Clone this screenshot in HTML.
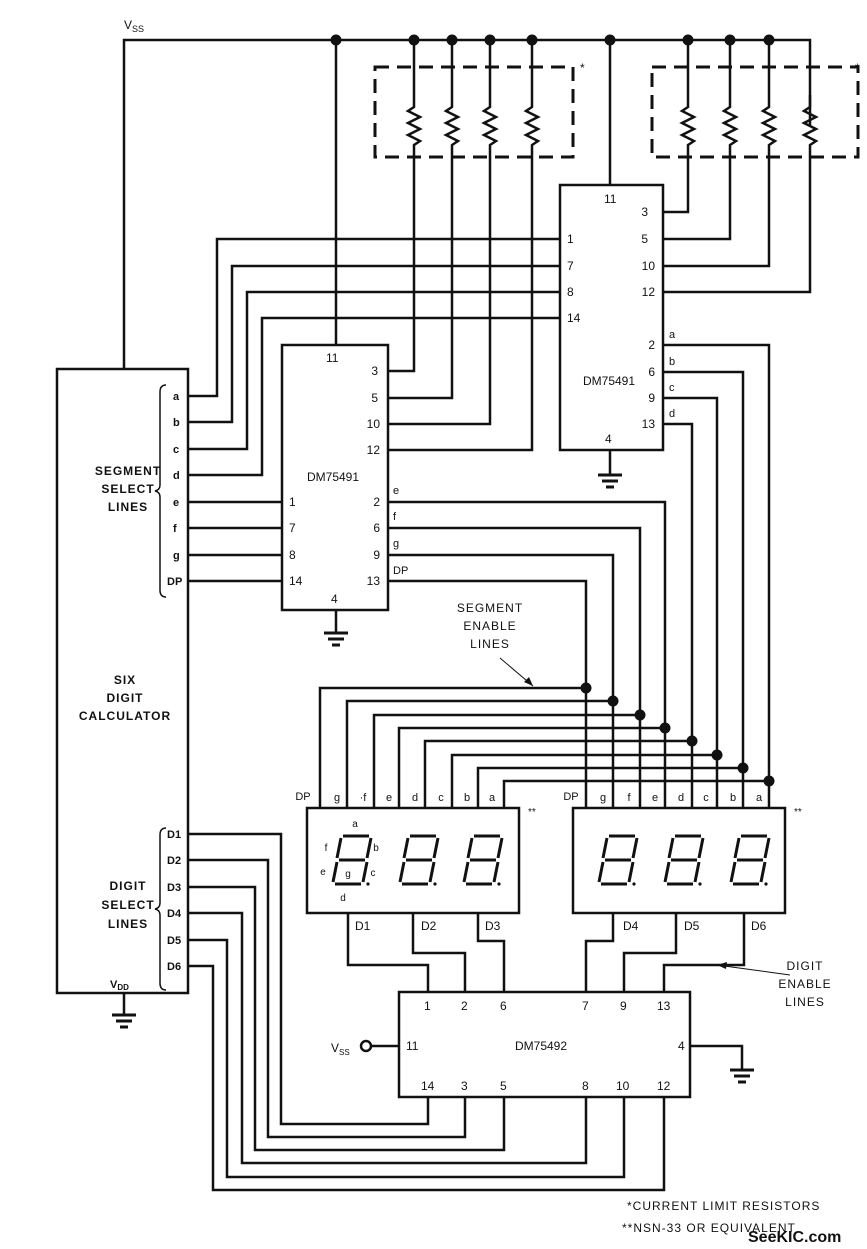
<!DOCTYPE html>
<html><head><meta charset="utf-8"><style>
html,body{margin:0;padding:0;background:#fff}
svg{display:block}
text{font-family:"Liberation Sans",sans-serif;fill:#111}
</style></head><body>
<svg width="867" height="1249" viewBox="0 0 867 1249" xmlns="http://www.w3.org/2000/svg">
<defs>
<g id="dig" fill="none" stroke="#111" stroke-width="3">
<path d="M9 2 L35 2 M7 4 L3 24 M37 4 L33 24 M5 26 L31 26 M3 28 L-1 48 M33 28 L29 48 M1 50 L27 50"/>
<circle cx="34" cy="50" r="1.6" fill="#111" stroke="none"/>
</g>
<g id="res" fill="none" stroke="#111" stroke-width="2.5">
<path d="M0 0 L0 12 L-6 16 L6 22 L-6 28 L6 34 L-6 40 L6 46 L0 50 L0 62"/>
</g>
<g id="gnd" stroke="#111" stroke-width="3"><path d="M-12 0 H12 M-8 6 H8 M-4 12 H4"/></g>
</defs>
<g fill="none" stroke="#111" stroke-width="2.5">
<path d="M124 368 V40 H810 V125"/>
<path d="M336 40 V345"/>
<path d="M414 40 V95 M414 157 V371 H388"/>
<path d="M452 40 V95 M452 157 V398 H388"/>
<path d="M490 40 V95 M490 157 V424 H388"/>
<path d="M532 40 V95 M532 157 V450 H388"/>
<path d="M610 40 V185"/>
<path d="M688 40 V95 M688 157 V212 H663"/>
<path d="M730 40 V95 M730 157 V239 H663"/>
<path d="M769 40 V95 M769 157 V266 H663"/>
<path d="M810 157 V292 H663"/>
<rect x="375" y="67" width="198" height="90" stroke-dasharray="14,8" stroke-width="3"/>
<rect x="652" y="67" width="206" height="90" stroke-dasharray="14,8" stroke-width="3"/>
<rect x="282" y="345" width="106" height="265"/>
<rect x="560" y="185" width="103" height="265"/>
<rect x="57" y="369" width="131" height="624"/>
<rect x="399" y="992" width="291" height="105"/>
<path d="M560 239 H217 V396 H188"/>
<path d="M560 266 H232 V422 H188"/>
<path d="M560 292 H247 V449 H188"/>
<path d="M560 318 H262 V475 H188"/>
<path d="M188 502 H282 M188 528 H282 M188 555 H282 M188 581 H282"/>
<path d="M388 502 H665 V808"/>
<path d="M388 528 H640 V808"/>
<path d="M388 555 H613 V808"/>
<path d="M388 581 H586 V808"/>
<path d="M663 345 H769 V808"/>
<path d="M663 372 H743 V808"/>
<path d="M663 398 H717 V808"/>
<path d="M663 424 H692 V808"/>
<path d="M586 688 H320 V808"/>
<path d="M613 701 H347 V808"/>
<path d="M640 715 H374 V808"/>
<path d="M665 728 H399 V808"/>
<path d="M692 741 H425 V808"/>
<path d="M717 755 H452 V808"/>
<path d="M743 768 H478 V808"/>
<path d="M769 781 H504 V808"/>
<rect x="307" y="808" width="212" height="105"/>
<rect x="573" y="808" width="212" height="105"/>
<path d="M348 913 V965 H428 V992"/>
<path d="M413 913 V953 H465 V992"/>
<path d="M478 913 V941 H504 V992"/>
<path d="M613 913 V941 H586 V992"/>
<path d="M676 913 V953 H624 V992"/>
<path d="M744 913 V965 H664 V992"/>
<path d="M188 834 H281 V1124 H428 V1097"/>
<path d="M188 860 H268 V1137 H465 V1097"/>
<path d="M188 887 H255 V1150 H504 V1097"/>
<path d="M188 913 H242 V1163 H586 V1097"/>
<path d="M188 940 H227 V1177 H624 V1097"/>
<path d="M188 966 H213 V1190 H664 V1097"/>
<path d="M371 1046 H399"/>
<circle cx="366" cy="1046" r="5"/>
<path d="M690 1046 H742 V1070"/>
<path d="M336 610 V633 M610 450 V475 M124 993 V1015"/>
<path d="M166 385 Q160 385 160 392 V485 Q160 490 155 491 Q160 492 160 497 V590 Q160 597 166 597" stroke-width="1.5"/>
<path d="M166 828 Q160 828 160 835 V903 Q160 908 155 909 Q160 910 160 915 V983 Q160 990 166 990" stroke-width="1.5"/>
<path d="M500 658 L533 686" stroke-width="1"/>
<path d="M790 975 L717 965" stroke-width="1"/>
</g>
<path d="M533 686 L524 682 L529 677 Z M717 965 L727 962 L726 969 Z" fill="#111"/>
<g>
<use href="#res" x="414" y="95"/><use href="#res" x="452" y="95"/><use href="#res" x="490" y="95"/><use href="#res" x="532" y="95"/>
<use href="#res" x="688" y="95"/><use href="#res" x="730" y="95"/><use href="#res" x="769" y="95"/><use href="#res" x="810" y="95"/>
<use href="#gnd" x="336" y="633"/><use href="#gnd" x="610" y="475"/><use href="#gnd" x="124" y="1015"/><use href="#gnd" x="742" y="1070"/>
<use href="#dig" x="334" y="834"/><use href="#dig" x="401" y="834"/><use href="#dig" x="465" y="834"/>
<use href="#dig" x="600" y="834"/><use href="#dig" x="666" y="834"/><use href="#dig" x="732" y="834"/>
</g>
<g fill="#111">
<circle cx="336" cy="40" r="5.5"/><circle cx="414" cy="40" r="5.5"/><circle cx="452" cy="40" r="5.5"/><circle cx="490" cy="40" r="5.5"/><circle cx="532" cy="40" r="5.5"/><circle cx="610" cy="40" r="5.5"/><circle cx="688" cy="40" r="5.5"/><circle cx="730" cy="40" r="5.5"/><circle cx="769" cy="40" r="5.5"/>
<circle cx="586" cy="688" r="5.5"/><circle cx="613" cy="701" r="5.5"/><circle cx="640" cy="715" r="5.5"/><circle cx="665" cy="728" r="5.5"/><circle cx="692" cy="741" r="5.5"/><circle cx="717" cy="755" r="5.5"/><circle cx="743" cy="768" r="5.5"/><circle cx="769" cy="781" r="5.5"/>
</g>
<g font-size="12">
<text x="124" y="29">V<tspan font-size="9" dy="3">SS</tspan></text>
<text x="580" y="72">*</text><text x="855" y="72">*</text>
<text x="604" y="203">11</text>
<text x="648" y="216" text-anchor="end">3</text><text x="648" y="243" text-anchor="end">5</text><text x="655" y="270" text-anchor="end">10</text><text x="655" y="296" text-anchor="end">12</text>
<text x="567" y="243">1</text><text x="567" y="270">7</text><text x="567" y="296">8</text><text x="567" y="322">14</text>
<text x="583" y="385">DM75491</text>
<text x="655" y="349" text-anchor="end">2</text><text x="655" y="376" text-anchor="end">6</text><text x="655" y="402" text-anchor="end">9</text><text x="655" y="428" text-anchor="end">13</text>
<text x="669" y="338" font-size="11">a</text><text x="669" y="365" font-size="11">b</text><text x="669" y="391" font-size="11">c</text><text x="669" y="417" font-size="11">d</text>
<text x="605" y="443">4</text>
<text x="326" y="362">11</text>
<text x="378" y="375" text-anchor="end">3</text><text x="378" y="402" text-anchor="end">5</text><text x="380" y="428" text-anchor="end">10</text><text x="380" y="454" text-anchor="end">12</text>
<text x="307" y="481">DM75491</text>
<text x="289" y="506">1</text><text x="289" y="532">7</text><text x="289" y="559">8</text><text x="289" y="585">14</text>
<text x="380" y="506" text-anchor="end">2</text><text x="380" y="532" text-anchor="end">6</text><text x="380" y="559" text-anchor="end">9</text><text x="380" y="585" text-anchor="end">13</text>
<text x="331" y="603">4</text>
<text x="393" y="494" font-size="11">e</text><text x="393" y="520" font-size="11">f</text><text x="393" y="547" font-size="11">g</text><text x="393" y="574" font-size="11">DP</text>
<text x="490" y="612" text-anchor="middle" letter-spacing="1">SEGMENT</text>
<text x="490" y="630" text-anchor="middle" letter-spacing="1">ENABLE</text>
<text x="490" y="648" text-anchor="middle" letter-spacing="1">LINES</text>
<g font-weight="bold" font-size="12" text-anchor="middle" letter-spacing="1">
<text x="128" y="475">SEGMENT</text><text x="128" y="493">SELECT</text><text x="128" y="511">LINES</text>
<text x="125" y="684">SIX</text><text x="125" y="702">DIGIT</text><text x="125" y="720">CALCULATOR</text>
<text x="128" y="890">DIGIT</text><text x="128" y="909">SELECT</text><text x="128" y="928">LINES</text>
</g>
<g font-weight="bold" font-size="11">
<text x="173" y="400">a</text><text x="173" y="426">b</text><text x="173" y="453">c</text><text x="173" y="479">d</text><text x="173" y="506">e</text><text x="173" y="532">f</text><text x="173" y="559">g</text><text x="167" y="585">DP</text>
<text x="167" y="838">D1</text><text x="167" y="864">D2</text><text x="167" y="891">D3</text><text x="167" y="917">D4</text><text x="167" y="944">D5</text><text x="167" y="970">D6</text>
<text x="110" y="988">V<tspan font-size="8" dy="2">DD</tspan></text>
</g>
<g font-size="11" text-anchor="middle">
<text x="303" y="800">DP</text><text x="337" y="801">g</text><text x="363" y="801">·f</text><text x="389" y="801">e</text><text x="415" y="801">d</text><text x="441" y="801">c</text><text x="467" y="801">b</text><text x="492" y="801">a</text>
<text x="571" y="800">DP</text><text x="603" y="801">g</text><text x="629" y="801">f</text><text x="655" y="801">e</text><text x="681" y="801">d</text><text x="706" y="801">c</text><text x="733" y="801">b</text><text x="759" y="801">a</text>
<text x="355" y="827" font-size="10">a</text><text x="326" y="851" font-size="10">f</text><text x="376" y="851" font-size="10">b</text><text x="323" y="875" font-size="10">e</text><text x="348" y="877" font-size="10">g</text><text x="373" y="876" font-size="10">c</text><text x="343" y="901" font-size="10">d</text>
</g>
<text x="528" y="815" font-size="10">**</text><text x="794" y="815" font-size="10">**</text>
<text x="355" y="930">D1</text><text x="421" y="930">D2</text><text x="485" y="930">D3</text>
<text x="623" y="930">D4</text><text x="684" y="930">D5</text><text x="751" y="930">D6</text>
<text x="805" y="970" text-anchor="middle" letter-spacing="1">DIGIT</text>
<text x="805" y="988" text-anchor="middle" letter-spacing="1">ENABLE</text>
<text x="805" y="1006" text-anchor="middle" letter-spacing="1">LINES</text>
<text x="424" y="1010">1</text><text x="461" y="1010">2</text><text x="500" y="1010">6</text><text x="582" y="1010">7</text><text x="620" y="1010">9</text><text x="657" y="1010">13</text>
<text x="406" y="1050">11</text><text x="515" y="1050">DM75492</text><text x="678" y="1050">4</text>
<text x="421" y="1090">14</text><text x="461" y="1090">3</text><text x="500" y="1090">5</text><text x="582" y="1090">8</text><text x="616" y="1090">10</text><text x="657" y="1090">12</text>
<text x="331" y="1052">V<tspan font-size="8" dy="3">SS</tspan></text>
<text x="627" y="1210" letter-spacing="1">*CURRENT LIMIT RESISTORS</text>
<text x="622" y="1232" letter-spacing="1">**NSN-33 OR EQUIVALENT</text>
<text x="748" y="1242" font-size="16" font-weight="bold" fill="#444">SeeKIC.com</text>
</g>
</svg>
</body></html>
